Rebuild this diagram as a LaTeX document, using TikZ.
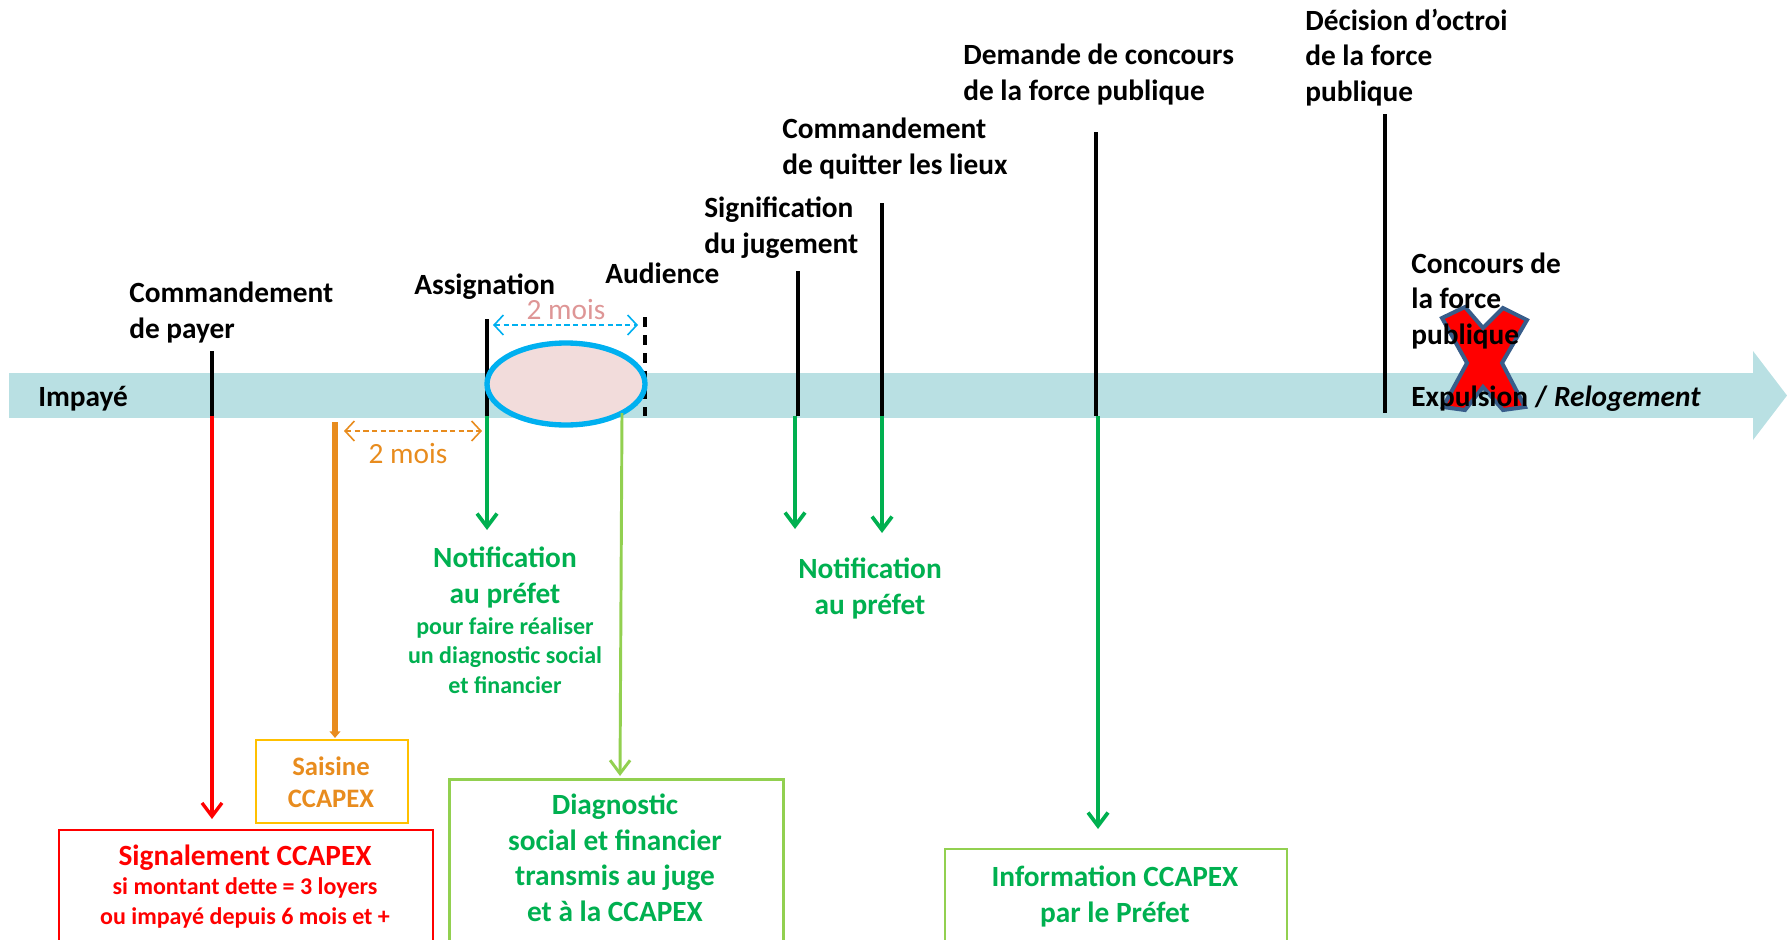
\documentclass[tikz,border=0pt]{standalone}
\usepackage{fontspec}
\setmainfont{Carlito}
\usetikzlibrary{arrows.meta,shapes.geometric}
\definecolor{bandc}{RGB}{185,224,227}
\definecolor{redc}{RGB}{255,0,0}
\definecolor{orangec}{RGB}{232,140,30}
\definecolor{goldc}{RGB}{255,192,0}
\definecolor{dgreen}{RGB}{0,176,80}
\definecolor{lgreen}{RGB}{146,208,80}
\definecolor{bluec}{RGB}{0,176,240}
\definecolor{pinkc}{RGB}{242,220,219}
\definecolor{pinktext}{RGB}{222,150,150}
\definecolor{xborder}{RGB}{56,93,138}
\tikzset{
  big/.style={font=\fontsize{22}{26.6}\selectfont\bfseries, inner sep=0pt},
  small/.style={font=\fontsize{18}{22}\selectfont\bfseries, inner sep=0pt},
  tick/.style={line width=2.3pt, black},
  garrow/.style={line width=2.8pt, dgreen, -{Straight Barb[length=10pt,width=15pt]}},
  dbl/.style={line width=1.2pt, dash pattern=on 4pt off 2.5pt, {Straight Barb[length=7pt,width=15pt]}-{Straight Barb[length=7pt,width=15pt]}},
  boxc/.style={draw, inner sep=0pt, anchor=north west},
}
\begin{document}
\begin{tikzpicture}[x=0.75pt,y=-0.75pt]
\useasboundingbox (0,0) rectangle (1787,939);
% timeline band
\fill[bandc] (9,373) rectangle (1753,418);
\fill[bandc] (1753,351) -- (1787,395.5) -- (1753,440) -- cycle;

% coordinates
\coordinate (cpT) at (212,351); \coordinate (cpB) at (212,416);
\coordinate (orT) at (335,422);
\coordinate (asT) at (487,319); \coordinate (asB) at (487,416);
\coordinate (auT) at (645,317); \coordinate (auB) at (645,416);
\coordinate (sgT) at (798,271); \coordinate (sgB) at (798,416);
\coordinate (cqT) at (882,203); \coordinate (cqB) at (882,416);
\coordinate (dmT) at (1096,132); \coordinate (dmB) at (1096,416);
\coordinate (dcT) at (1385,114); \coordinate (dcB) at (1385,413);
\coordinate (d1L) at (493,325); \coordinate (d1R) at (638,325);
\coordinate (d2L) at (344,431); \coordinate (d2R) at (482,431);
\coordinate (lgT) at (622,413);

% boxes
\node[boxc, draw=goldc, line width=1.5pt, minimum width=114pt, minimum height=62pt] (sai) at (255,739) {};
\node[boxc, draw=redc, line width=1.5pt, minimum width=280.5pt, minimum height=90pt] (sig) at (58,829) {};
\node[boxc, draw=lgreen, line width=2.6pt, minimum width=250.5pt, minimum height=130pt] (dia) at (448,778) {};
\node[boxc, draw=lgreen, line width=1.5pt, minimum width=256.5pt, minimum height=80pt] (inf) at (944,848) {};

% end points of arrows
\coordinate (cpE) at (212,819);
\coordinate (orE) at (335,738);
\coordinate (asE) at (487,530);
\coordinate (sgS) at (795,416);
\coordinate (sgE) at (795,529);
\coordinate (cqE) at (882,533);
\coordinate (dmS) at (1098,416);
\coordinate (dmE) at (1098,829);
\coordinate (lgE) at (620,776);

% ticks
\draw[tick] (cpT) -- (cpB);
\draw[tick] (asT) -- (asB);
\draw[tick, dash pattern=on 7.5pt off 6pt] (auT) -- (auB);
\draw[tick] (sgT) -- (sgB);
\draw[tick] (cqT) -- (cqB);
\draw[tick] (dmT) -- (dmB);
\draw[tick] (dcT) -- (dcB);

% ellipse
\node[draw=bluec, fill=pinkc, line width=4pt, ellipse, minimum width=118.5pt, minimum height=61.5pt, inner sep=0pt] (ell) at (566,384) {};

% down arrows
\draw[line width=2.5pt, redc, -{Straight Barb[length=10pt,width=15pt]}] (cpB) -- (cpE);
\draw[line width=3.8pt, orangec, -{Triangle[length=5pt,width=8pt]}] (orT) -- (orE);
\draw[garrow] (asB) -- (asE);
\draw[garrow] (sgS) -- (sgE);
\draw[garrow] (cqB) -- (cqE);
\draw[garrow] (dmS) -- (dmE);
\draw[line width=2.2pt, lgreen, -{Straight Barb[length=10pt,width=15pt]}] (lgT) -- (lgE);

% dashed double arrows
\draw[dbl, bluec] (d1L) -- (d1R);
\draw[dbl, orangec] (d2L) -- (d2R);
\node[font=\fontsize{22}{26}\selectfont, text=pinktext, inner sep=0pt, anchor=base] (m1) at (566,319) {2 mois};
\node[font=\fontsize{22}{26}\selectfont, text=orangec, inner sep=0pt, anchor=base] (m2) at (408,463) {2 mois};

% red X
\draw[fill=redc, draw=xborder, line width=3pt, line join=miter]
  (1442,318) -- (1465,307) -- (1483,328) -- (1503,308) -- (1527,320) -- (1502,363)
  -- (1525,407) -- (1503,410) -- (1483,387) -- (1465,410) -- (1443,407) -- (1467,363) -- cycle;

% labels (anchor = baseline of last line)
\node[big, anchor=base west] (imp) at (38,406) {Impayé};
\node[big, anchor=base west, align=left] (lcp) at (129,338) {Commandement\\de payer};
\node[big, anchor=base west] (las) at (414,294) {Assignation};
\node[big, anchor=base west] (lau) at (605,283) {Audience};
\node[big, anchor=base west, align=left] (lsg) at (704,253) {Signification\\du jugement};
\node[big, anchor=base west, align=left] (lcq) at (782,174) {Commandement\\de quitter les lieux};
\node[big, anchor=base west, align=left] (ldm) at (963,100) {Demande de concours\\de la force publique};
\node[big, anchor=base west, align=left] (ldc) at (1305,101) {Décision d’octroi\\de la force\\publique};
\node[big, anchor=base west, align=left] (lcc) at (1411,344) {Concours de\\la force\\publique};
\node[big, anchor=base west] (lex) at (1411,406) {Expulsion / \textit{Relogement}};

% green notifications
\node[big, anchor=base, align=center, text=dgreen] (n1) at (505,603) {Notification\\au préfet};
\node[small, anchor=base, align=center, text=dgreen] (n1b) at (505,693) {pour faire réaliser\\un diagnostic social\\et financier};
\node[big, anchor=base, align=center, text=dgreen] (n2) at (870,614) {Notification\\au préfet};

% box texts
\node[font=\fontsize{20}{24}\selectfont\bfseries, inner sep=0pt, anchor=base, align=center, text=orangec] (tsai) at (331,807) {Saisine\\CCAPEX};
\node[big, anchor=base, text=redc] (tsig) at (245,865) {Signalement CCAPEX};
\node[small, anchor=base, align=center, text=redc] (tsig2) at (245,924) {si montant dette = 3 loyers\\ou impayé depuis 6 mois et +};
\node[big, anchor=base, align=center, text=dgreen] (tdia) at (615,921) {Diagnostic\\social et financier\\transmis au juge\\et à la CCAPEX};
\node[big, anchor=base, align=center, text=dgreen] (tinf) at (1115,922) {Information CCAPEX\\par le Préfet};
\end{tikzpicture}
\end{document}
